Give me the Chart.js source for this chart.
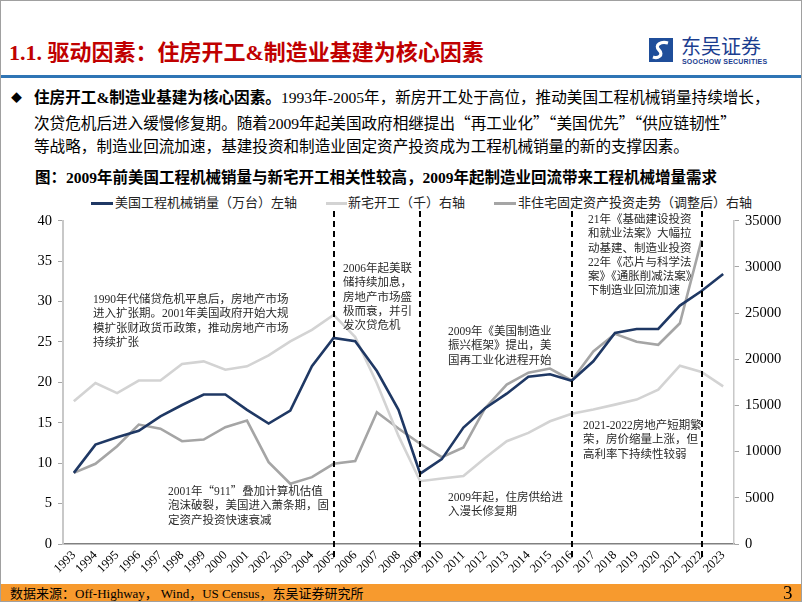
<!DOCTYPE html>
<html>
<head>
<meta charset="utf-8">
<script src="https://cdn.jsdelivr.net/npm/chart.js@4.4.0/dist/chart.umd.min.js"></script>
<style>
body{margin:0;}
#slide{position:relative;width:802px;height:602px;overflow:hidden;background:#fff;font-family:"Liberation Serif","Noto Sans CJK SC",serif;color:#000;box-sizing:border-box;border:1px solid #a0a0a0;}
.abs{position:absolute;white-space:nowrap;}
.q{font-family:"Noto Sans CJK SC";}
.note{position:absolute;white-space:nowrap;font-size:11.5px;line-height:14.3px;color:#2a2a2a;}
.para{position:absolute;left:33px;white-space:nowrap;font-size:15.6px;line-height:24px;}
.lg{position:absolute;top:194px;font-size:13px;line-height:16px;white-space:nowrap;color:#222;}
.lgl{position:absolute;top:201px;height:3px;}
</style>
</head>
<body>
<div id="slide">
  <div class="abs" style="left:8px;top:39px;font-size:22px;line-height:26px;font-weight:bold;color:#C00000;">1.1. 驱动因素：住房开工&amp;制造业基建为核心因素</div>

  <svg class="abs" style="left:648px;top:37px" width="24" height="24" viewBox="0 0 24 24">
    <rect x="0" y="0" width="24" height="24" fill="#1F4E9A"/>
    <path d="M19 5 C 12 3, 5 7, 10 12 C 15 17, 9 21, 4 19" stroke="#fff" stroke-width="3.2" fill="none"/>
  </svg>
  <div class="abs" style="left:680px;top:33px;font-size:20px;line-height:24px;color:#1B3D8F;font-family:'Noto Sans CJK SC';">东吴证券</div>
  <div class="abs" style="left:681px;top:57px;font-size:7px;line-height:8px;font-weight:bold;color:#1B3D8F;font-family:'Liberation Sans';letter-spacing:0.2px;">SOOCHOW SECURITIES</div>

  <div class="abs" style="left:0;top:74px;width:802px;height:3px;background:#2F75B5;"></div>

  <div class="abs" style="left:10px;top:90px;font-size:11px;line-height:14px;">◆</div>
  <div class="para" style="top:85px;"><b>住房开工&amp;制造业基建为核心因素。</b>1993年-2005年，新房开工处于高位，推动美国工程机械销量持续增长，</div>
  <div class="para" style="top:109px;">次贷危机后进入缓慢修复期。随着2009年起美国政府相继提出<span class="q">“</span>再工业化<span class="q">”“</span>美国优先<span class="q">”“</span>供应链韧性<span class="q">”</span></div>
  <div class="para" style="top:134px;">等战略，制造业回流加速，基建投资和制造业固定资产投资成为工程机械销量的新的支撑因素。</div>

  <div class="abs" style="left:34px;top:168px;font-size:15.5px;line-height:18px;font-weight:bold;">图：2009年前美国工程机械销量与新宅开工相关性较高，2009年起制造业回流带来工程机械增量需求</div>

  <div class="lgl" style="left:90px;width:22px;background:#1F3864;"></div>
  <div class="lg" style="left:114px;">美国工程机械销量（万台）左轴</div>
  <div class="lgl" style="left:325px;width:21px;background:#D3D3D3;"></div>
  <div class="lg" style="left:347px;">新宅开工（千）右轴</div>
  <div class="lgl" style="left:493px;width:22px;background:#A5A5A5;"></div>
  <div class="lg" style="left:517px;">非住宅固定资产投资走势（调整后）右轴</div>

  <div class="abs" style="left:0;top:205px;width:802px;height:377px;"><canvas id="c"></canvas></div>

  <div class="note" style="left:92px;top:291px;">1990年代储贷危机平息后，房地产市场<br>进入扩张期。2001年美国政府开始大规<br>模扩张财政货币政策，推动房地产市场<br>持续扩张</div>
  <div class="note" style="left:342px;top:260px;">2006年起美联<br>储持续加息，<br>房地产市场盛<br>极而衰，并引<br>发次贷危机</div>
  <div class="note" style="left:447px;top:323px;">2009年《美国制造业<br>振兴框架》提出，美<br>国再工业化进程开始</div>
  <div class="note" style="left:587px;top:211px;">21年《基础建设投资<br>和就业法案》大幅拉<br>动基建、制造业投资<br>22年《芯片与科学法<br>案》《通胀削减法案》<br>下制造业回流加速</div>
  <div class="note" style="left:167px;top:482px;">2001年<span class="q">“</span>911<span class="q">”</span>叠加计算机估值<br>泡沫破裂，美国进入萧条期，固<br>定资产投资快速衰减</div>
  <div class="note" style="left:447px;top:489px;">2009年起，住房供给进<br>入漫长修复期</div>
  <div class="note" style="left:582px;top:417px;">2021-2022房地产短期繁<br>荣，房价缩量上涨，但<br>高利率下持续性较弱</div>

  <div class="abs" style="left:0;top:583px;width:802px;height:19px;background:#F79A2E;"></div>
  <div class="abs" style="left:9px;top:584px;font-size:13px;line-height:17px;">数据来源：Off-Highway， Wind，US Census，东吴证券研究所</div>
  <div class="abs" style="left:782px;top:581px;font-size:19px;line-height:21px;">3</div>
</div>
<script>
const years = ['1993','1994','1995','1996','1997','1998','1999','2000','2001','2002','2003','2004','2005','2006','2007','2008',
  '2009','2010','2011','2012','2013','2014','2015','2016','2017','2018','2019','2020','2021','2022','2023'];
// 美国工程机械销量（万台）
const salesWan = [8.8, 12.3, 13.2, 14.0, 15.8, 17.2, 18.5, 18.5, 16.6, 14.9, 16.5, 22.0, 25.5, 25.1, 21.4, 16.6,
  8.7, 10.5, 14.4, 16.8, 18.6, 20.7, 21.0, 20.2, 22.6, 26.1, 26.6, 26.6, 29.5, 31.3, 33.4];
// 新宅开工（千）
const housingStarts = [15450, 17420, 16340, 17700, 17700, 19480, 19770, 18870, 19230, 20420, 21930, 23190, 24810, 22400, 17400, 11700,
  6800, 7100, 7350, 9320, 11130, 12030, 13290, 14100, 14550, 15090, 15630, 16700, 19300, 18620, 17070];
// 非住宅固定资产投资走势（调整后）
const nonResInvest = [7700, 8680, 10590, 12930, 12490, 11130, 11310, 12640, 13360, 8860, 6520, 7240, 8680, 8970, 14260, 12500,
  10850, 9400, 10450, 14700, 17250, 18550, 18990, 17700, 20850, 22750, 21900, 21570, 23900, 32900, null];
const eventYears = ['2005', '2009', '2016', '2022'];

const serif = 'Liberation Serif';

const eventLines = {
  id: 'eventLines',
  afterDraw(chart) {
    const ctx = chart.ctx;
    const x = chart.scales.x;
    ctx.save();
    ctx.strokeStyle = '#000';
    ctx.lineWidth = 2;
    ctx.setLineDash([6, 4]);
    eventYears.forEach(yr => {
      const px = Math.round(x.getPixelForValue(years.indexOf(yr)));
      ctx.beginPath();
      ctx.moveTo(px, 5);
      ctx.lineTo(px, 355);
      ctx.stroke();
    });
    ctx.restore();
  }
};

new Chart(document.getElementById('c'), {
  type: 'line',
  data: {
    labels: years,
    datasets: [
      {label: '美国工程机械销量（万台）左轴', data: salesWan, yAxisID: 'y', borderColor: '#1F3864', borderWidth: 2.6},
      {label: '新宅开工（千）右轴', data: housingStarts, yAxisID: 'y1', borderColor: '#D3D3D3', borderWidth: 2.6},
      {label: '非住宅固定资产投资走势（调整后）右轴', data: nonResInvest, yAxisID: 'y1', borderColor: '#A5A5A5', borderWidth: 2.6}
    ]
  },
  options: {
    responsive: true,
    maintainAspectRatio: false,
    animation: false,
    elements: {point: {radius: 0}, line: {tension: 0}},
    layout: {padding: {top: 14, left: 0, right: 7, bottom: 0}},
    plugins: {legend: {display: false}, tooltip: {enabled: false}},
    scales: {
      x: {
        offset: true,
        grid: {display: false, drawTicks: false},
        border: {color: '#808080', width: 1.5},
        ticks: {autoSkip: false, minRotation: 45, maxRotation: 45, padding: 4, color: '#000', font: {family: serif, size: 12.5}},
        afterFit: s => { s.height = 39; }
      },
      y: {
        position: 'left', min: 0, max: 40,
        ticks: {stepSize: 5, padding: 6, color: '#000', font: {family: serif, size: 14.5}},
        grid: {drawOnChartArea: false, tickLength: 5, color: '#a6a6a6'},
        border: {color: '#c8c8c8', width: 2},
        afterFit: s => { s.width = 62; }
      },
      y1: {
        position: 'right', min: 0, max: 35000,
        ticks: {stepSize: 5000, padding: 6, color: '#000', font: {family: serif, size: 14.5}, callback: v => String(v)},
        grid: {drawOnChartArea: false, tickLength: 5, color: '#a6a6a6'},
        border: {color: '#c8c8c8', width: 1.5},
        afterFit: s => { s.width = 62; }
      }
    }
  },
  plugins: [eventLines]
});
</script>
</body>
</html>
